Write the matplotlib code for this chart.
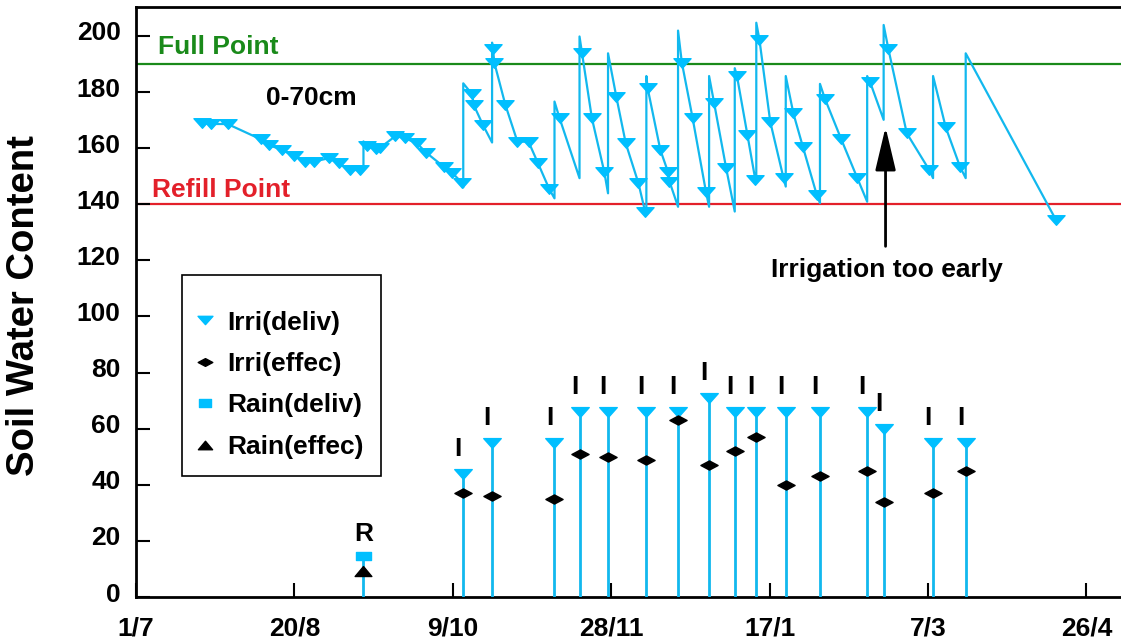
import matplotlib
matplotlib.use('Agg')
import matplotlib.pyplot as plt
from matplotlib.path import Path
from matplotlib.transforms import ScaledTranslation

# ---------------- data ----------------
# x axis: days since 1 July
tick_days = [0, 50, 100, 150, 200, 250, 300]
tick_labels = ['1/7', '20/8', '9/10', '28/11', '17/1', '7/3', '26/4']
y_ticks = [0, 20, 40, 60, 80, 100, 120, 140, 160, 180, 200]

full_point = 190
refill_point = 140

# measured soil water content (0-70cm)
obs_days = [20.8, 23.7, 28.9, 39.3, 41.9, 46.1, 49.8, 53.5, 56.1, 60.8, 64.0, 67.7,
            70.8, 72.9, 75.6, 77.1, 81.9, 85.0, 88.7, 91.6, 97.1, 99.7, 102.9,
            106.1, 106.6, 109.5,
            112.7, 113.1, 116.6, 120.4, 123.9, 126.9, 130.5,
            133.7,
            140.8, 143.9, 147.8,
            151.6, 154.6, 158.6, 160.7,
            161.5, 165.5, 167.9, 168.4,
            172.3, 175.7, 179.9,
            182.5, 186.3,
            189.7, 193.0, 195.5,
            196.8, 200.2, 204.4,
            207.5, 210.5, 214.9,
            217.5, 222.6, 227.7,
            231.7,
            237.5, 243.3, 250.4,
            255.6, 260.1,
            290.4]
obs_vals = [169.0, 168.6, 168.6, 163.2, 161.1, 159.4, 157.2, 155.2, 155.2, 156.4, 154.6, 152.2,
            152.2, 160.8, 159.6, 160.2, 164.3, 163.5, 161.7, 158.4, 153.4, 151.3, 147.7,
            179.2, 175.4, 168.3,
            195.3, 190.5, 175.4, 162.3, 162.3, 154.6, 145.3,
            170.7,
            193.8, 170.7, 151.6,
            178.4, 161.7, 147.5, 137.4,
            181.4, 159.4, 151.6, 148.1,
            190.5, 170.7, 144.5,
            176.0, 152.8,
            185.7, 164.7, 148.7,
            198.6, 169.4, 149.3,
            172.4, 160.5, 143.3,
            177.5, 163.2, 149.3,
            183.6,
            195.3, 165.3, 152.2,
            167.4, 153.4,
            134.4]

# rain event
rain_days = [71.8]
rain_deliv = [14.7]
rain_effec = [9.1]
rain_swc_before = [153.4]
rain_swc_after = [162.4]

# irrigation events
irr_days = [103.3, 112.4, 132.1, 140.0, 149.0, 161.1, 171.1, 180.9,
            189.0, 195.8, 205.1, 215.9, 230.8, 236.0, 251.6, 261.9]
irr_deliv = [44, 55, 55, 66, 66, 66, 66, 71, 66, 66, 66, 66, 66, 60, 55, 55]
irr_effec = [37, 36, 35, 51, 50, 49, 63, 47, 52, 57, 40, 43, 45, 34, 37, 45]
irr_swc_before = [146.0, 162.0, 142.1, 149.3, 143.9, 139.0, 139.1, 139.1,
                  137.4, 147.9, 146.3, 140.4, 140.9, 170.1, 149.3, 149.3]
irr_swc_after = [183.1, 197.6, 176.6, 199.8, 193.8, 185.7, 201.9, 185.7,
                 188.5, 204.7, 185.7, 182.9, 185.7, 203.9, 185.7, 193.8]

# ---------------- styles ----------------
CYAN = '#00BFFF'
LINE_CYAN = '#12B8EE'
GREEN = '#1A8A1A'
RED = '#E3202A'

def poly_marker(pts):
    codes = [Path.MOVETO] + [Path.LINETO] * (len(pts) - 1) + [Path.CLOSEPOLY]
    return Path(list(pts) + [pts[0]], codes)

TRI_DOWN = poly_marker([(-1, 0.56), (1, 0.56), (0, -0.56)])
TRI_UP = poly_marker([(-1, -0.6), (1, -0.6), (0, 0.6)])
DIAMOND = poly_marker([(-1, 0), (0, 0.53), (1, 0), (0, -0.53)])
SQUARE = poly_marker([(-1, -0.55), (1, -0.55), (1, 0.55), (-1, 0.55)])

plt.rcParams['font.family'] = ['Liberation Sans', 'DejaVu Sans']
plt.rcParams['font.weight'] = 'bold'
plt.rcParams['axes.labelweight'] = 'bold'
FS = 19

W, H = 1121, 643
fig = plt.figure(figsize=(W / 100, H / 100), dpi=100)
x0, x1, ytop, ybot = 136.0, 1121.0, 7.3, 597.0
ax = fig.add_axes([x0 / W, (H - ybot) / H, (x1 - x0) / W, (ybot - ytop) / H])
ax.set_xlim(0, (x1 - x0) / 3.168)
ax.set_ylim(0, 210.2)

# reference lines
ax.axhline(full_point, color=GREEN, lw=1.6, zorder=1)
ax.axhline(refill_point, color=RED, lw=1.6, zorder=1)
ax.text(7.0, 196.0, 'Full Point', color=GREEN, fontsize=FS, fontweight='bold',
        ha='left', va='center')
ax.text(4.9, 145.2, 'Refill Point', color=RED, fontsize=FS, fontweight='bold',
        ha='left', va='center')

# soil water line: measurements plus jumps at rain / irrigation events
pts = [(d, 1, v) for d, v in zip(obs_days, obs_vals)]
for d, lo, hi in zip(rain_days + irr_days, rain_swc_before + irr_swc_before,
                     rain_swc_after + irr_swc_after):
    pts.append((d, 0, lo))
    pts.append((d, 0.5, hi))
pts.sort(key=lambda p: (p[0], p[1]))
ax.plot([p[0] for p in pts], [p[2] for p in pts], color=LINE_CYAN, lw=1.6, zorder=3)
ax.plot(obs_days, obs_vals, ls='none', marker=TRI_DOWN, ms=12.3, color=CYAN, zorder=4)
ax.text(55.3, 178.0, '0-70cm', fontsize=FS, fontweight='bold', ha='center', va='center')

# irrigation bars
ax.vlines(irr_days, 0, irr_deliv, color=LINE_CYAN, lw=2, zorder=3)
ax.plot(irr_days, irr_deliv, ls='none', marker=TRI_DOWN, ms=12.6, color=CYAN,
        zorder=5, label='Irri(deliv)')
ax.plot(irr_days, irr_effec, ls='none', marker=DIAMOND, ms=12.4, color='black',
        zorder=6, label='Irri(effec)')
for d, v in zip(irr_days, irr_deliv):
    ax.annotate('I', (d, v), xytext=(-3.6, 18), textcoords='offset points',
                ha='center', va='center', fontsize=FS, fontweight='bold')

# rain
ax.vlines(rain_days, 0, rain_deliv, color=LINE_CYAN, lw=2, zorder=3)
ax.plot(rain_days, rain_deliv, ls='none', marker=SQUARE, ms=10.8, color=CYAN,
        zorder=5, label='Rain(deliv)')
ax.plot(rain_days, rain_effec, ls='none', marker=TRI_UP, ms=12, color='black',
        zorder=6, label='Rain(effec)')
for d, v in zip(rain_days, rain_deliv):
    ax.annotate('R', (d, v), xytext=(0, 16), textcoords='offset points',
                ha='center', va='center', fontsize=FS, fontweight='bold')

# annotation arrow
ax.annotate('', xy=(236.6, 167.5), xytext=(236.6, 125.0),
            arrowprops=dict(arrowstyle='-|>,head_length=1.9,head_width=0.45',
                            mutation_scale=14, lw=2, color='black',
                            shrinkA=0, shrinkB=0), zorder=7)
ax.text(237.0, 116.5, 'Irrigation too early', fontsize=FS, fontweight='bold',
        ha='center', va='center')

# axes styling
ax.set_xticks(tick_days)
ax.set_xticklabels(tick_labels)
ax.set_yticks(y_ticks)
ax.tick_params(direction='in', length=10, width=1.5, labelsize=FS)
ax.tick_params(axis='x', pad=14)
ax.tick_params(axis='y', pad=11)
for lab in ax.get_yticklabels():
    lab.set_fontweight('bold')
    lab.set_transform(lab.get_transform() + ScaledTranslation(0, 0.05, fig.dpi_scale_trans))
for lab in ax.get_xticklabels():
    lab.set_fontweight('bold')
for s in ('left', 'bottom', 'top'):
    ax.spines[s].set_linewidth(2)
ax.spines['right'].set_visible(False)

ax.set_ylabel('Soil Water Content', fontsize=27.5, fontweight='bold')
ax.yaxis.set_label_coords(-0.095, 0.495)

leg = ax.legend(loc='upper left', bbox_to_anchor=(0.047, 0.546), borderaxespad=0,
                frameon=True, fancybox=False, edgecolor='black', framealpha=1,
                fontsize=FS, markerscale=0.85, handlelength=0.4, handletextpad=0.65,
                labelspacing=0.66, borderpad=0.65, title=' ', title_fontsize=1)
leg.get_frame().set_linewidth(1.2)
for t in leg.get_texts():
    t.set_fontweight('bold')

fig.savefig('out.png', dpi=100)
